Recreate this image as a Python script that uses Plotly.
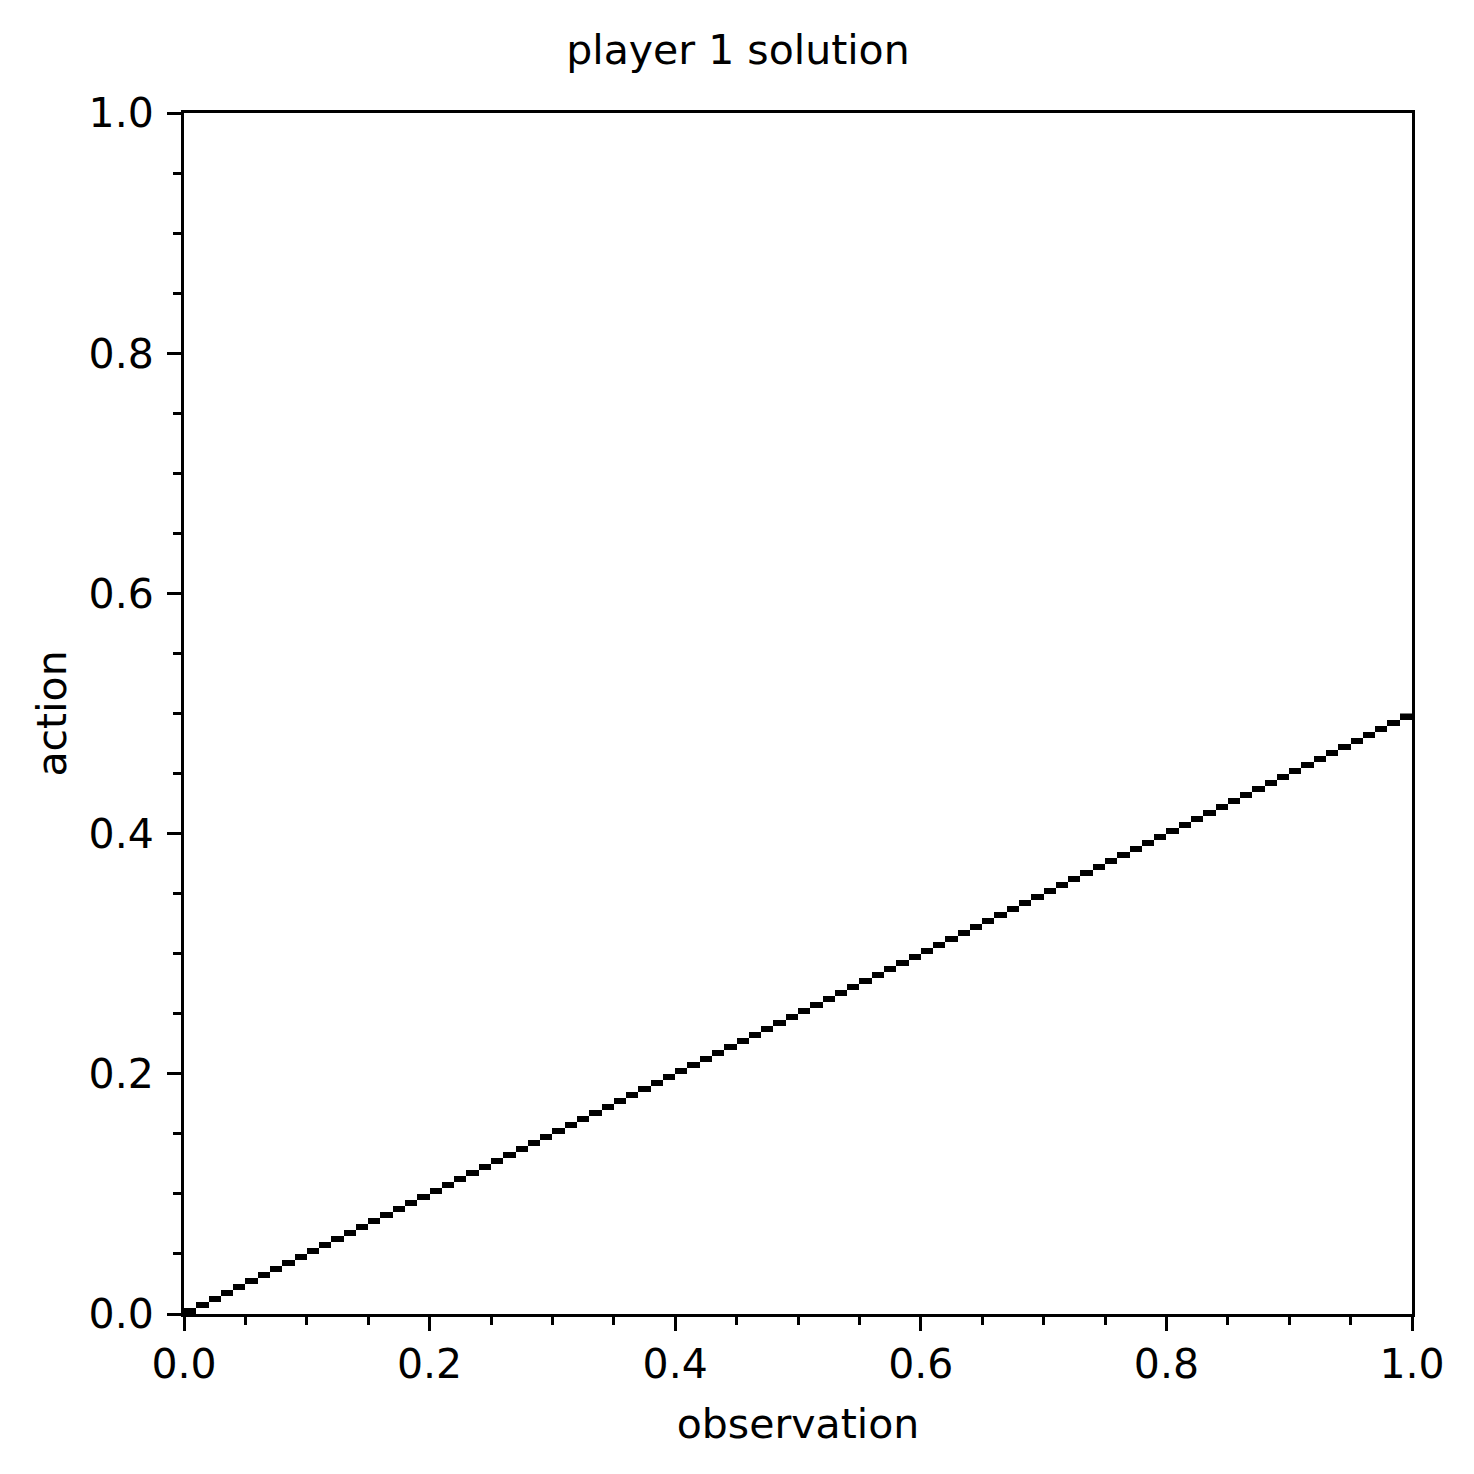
import plotly.graph_objects as go

# observation bins (centres) and the action chosen in each bin (centres)
observation = [
    0.005, 0.015, 0.025, 0.035, 0.045, 0.055, 0.065, 0.075, 0.085, 0.095,
    0.105, 0.115, 0.125, 0.135, 0.145, 0.155, 0.165, 0.175, 0.185, 0.195,
    0.205, 0.215, 0.225, 0.235, 0.245, 0.255, 0.265, 0.275, 0.285, 0.295,
    0.305, 0.315, 0.325, 0.335, 0.345, 0.355, 0.365, 0.375, 0.385, 0.395,
    0.405, 0.415, 0.425, 0.435, 0.445, 0.455, 0.465, 0.475, 0.485, 0.495,
    0.505, 0.515, 0.525, 0.535, 0.545, 0.555, 0.565, 0.575, 0.585, 0.595,
    0.605, 0.615, 0.625, 0.635, 0.645, 0.655, 0.665, 0.675, 0.685, 0.695,
    0.705, 0.715, 0.725, 0.735, 0.745, 0.755, 0.765, 0.775, 0.785, 0.795,
    0.805, 0.815, 0.825, 0.835, 0.845, 0.855, 0.865, 0.875, 0.885, 0.895,
    0.905, 0.915, 0.925, 0.935, 0.945, 0.955, 0.965, 0.975, 0.985, 0.995,
]
action = [
    0.0025, 0.0075, 0.0125, 0.0175, 0.0225, 0.0275, 0.0325, 0.0375, 0.0425, 0.0475,
    0.0525, 0.0575, 0.0625, 0.0675, 0.0725, 0.0775, 0.0825, 0.0875, 0.0925, 0.0975,
    0.1025, 0.1075, 0.1125, 0.1175, 0.1225, 0.1275, 0.1325, 0.1375, 0.1425, 0.1475,
    0.1525, 0.1575, 0.1625, 0.1675, 0.1725, 0.1775, 0.1825, 0.1875, 0.1925, 0.1975,
    0.2025, 0.2075, 0.2125, 0.2175, 0.2225, 0.2275, 0.2325, 0.2375, 0.2425, 0.2475,
    0.2525, 0.2575, 0.2625, 0.2675, 0.2725, 0.2775, 0.2825, 0.2875, 0.2925, 0.2975,
    0.3025, 0.3075, 0.3125, 0.3175, 0.3225, 0.3275, 0.3325, 0.3375, 0.3425, 0.3475,
    0.3525, 0.3575, 0.3625, 0.3675, 0.3725, 0.3775, 0.3825, 0.3875, 0.3925, 0.3975,
    0.4025, 0.4075, 0.4125, 0.4175, 0.4225, 0.4275, 0.4325, 0.4375, 0.4425, 0.4475,
    0.4525, 0.4575, 0.4625, 0.4675, 0.4725, 0.4775, 0.4825, 0.4875, 0.4925, 0.4975,
]
density = [1] * len(observation)

tick_vals = [0.0, 0.2, 0.4, 0.6, 0.8, 1.0]

FONT = "DejaVu Sans"

fig = go.Figure()

# policy drawn as a sparse heatmap: one black cell per observation bin
fig.add_trace(go.Heatmap(
    x=observation,
    y=action,
    z=density,
    colorscale=[[0, "black"], [1, "black"]],
    zmin=0, zmax=1,
    showscale=False,
    hoverongaps=False,
))

axis_style = dict(
    range=[0, 1],
    tickvals=tick_vals,
    tickformat=".1f",
    ticks="outside",
    ticklen=14,
    tickwidth=3,
    tickcolor="black",
    showline=True,
    linecolor="black",
    linewidth=3,
    mirror=True,
    showgrid=False,
    zeroline=False,
    tickfont=dict(family=FONT, size=41, color="black"),
    minor=dict(dtick=0.05, ticks="outside", ticklen=8, tickwidth=2.5,
               tickcolor="black", showgrid=False),
)

fig.update_xaxes(**axis_style, ticklabelstandoff=-2,
                 title=dict(text="observation", standoff=23,
                            font=dict(family=FONT, size=41, color="black")))
fig.update_yaxes(**axis_style, ticklabelstandoff=5,
                 title=dict(text="action", standoff=10,
                            font=dict(family=FONT, size=41, color="black")))

# the page body adds an 8px offset, margins compensate for it
fig.update_layout(
    width=1474,
    height=1474,
    paper_bgcolor="white",
    plot_bgcolor="white",
    margin=dict(l=176, r=70, t=105, b=168),
    title=dict(text="player 1 solution", x=0.5 - 7 / 1474, xref="container",
               xanchor="center", y=1 - 42 / 1474, yanchor="middle",
               font=dict(family=FONT, size=41, color="black")),
    showlegend=False,
)

fig.write_html("out.html")
